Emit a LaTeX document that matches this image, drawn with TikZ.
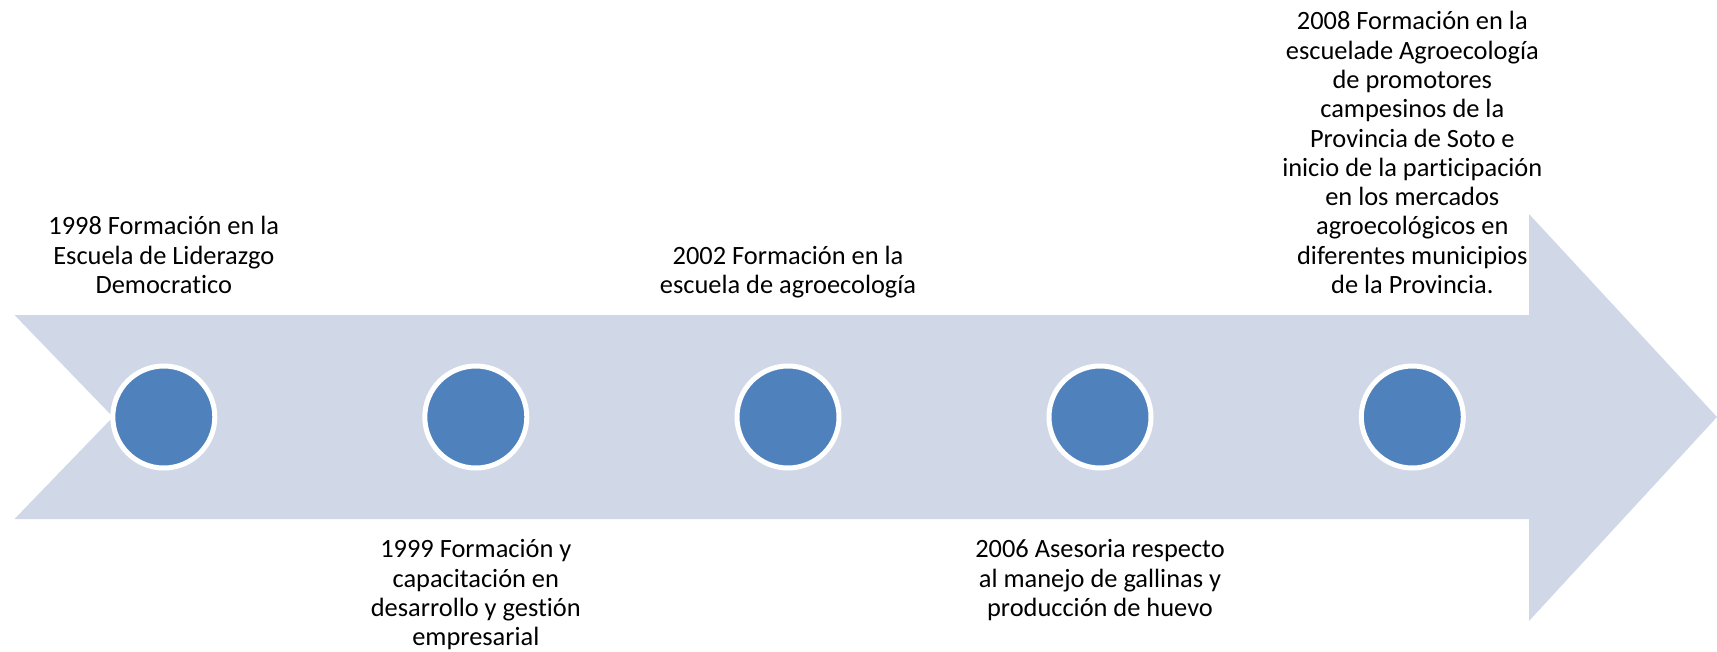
\documentclass[tikz,border=0pt]{standalone}
\usepackage{fontspec}
\setmainfont{Carlito}[Ligatures={NoCommon}]
\definecolor{bandcol}{RGB}{208,216,232}
\definecolor{dotcol}{RGB}{79,129,189}
\begin{document}
\begin{tikzpicture}[x=1pt,y=-1pt,
  dot/.style={circle,fill=dotcol,draw=white,line width=5pt,minimum size=102pt,inner sep=0pt},
  lbl/.style={align=center,inner sep=0pt,anchor=base,font=\fontsize{26.4}{29.3}\selectfont}]
\useasboundingbox (0,0) rectangle (1717,651);
\fill[bandcol] (14.5,315) -- (1529,315) -- (1529,214) -- (1717,417) -- (1529,621)
  -- (1529,519) -- (14.5,519) -- (113,417) -- cycle;
\node[dot] (c1) at (163.8,417) {};
\node[dot] (c2) at (475.8,417) {};
\node[dot] (c3) at (788,417) {};
\node[dot] (c4) at (1100,417) {};
\node[dot] (c5) at (1412.3,417) {};
\node[lbl] (t1) at (163.8,293.5) {1998 Formación en la\\Escuela de Liderazgo\\Democratico};
\node[lbl] (t2) at (475.8,645.7) {1999 Formación y\\capacitación en\\desarrollo y gestión\\empresarial};
\node[lbl] (t3) at (788,293.5) {2002 Formación en la\\escuela de agroecología};
\node[lbl] (t4) at (1100,616.4) {2006 Asesoria respecto\\al manejo de gallinas y\\producción de huevo};
\node[lbl] (t5) at (1412.3,293.5) {2008 Formación en la\\escuelade Agroecología\\de promotores\\campesinos de la\\Provincia de Soto e\\inicio de la participación\\en los mercados\\agroecológicos en\\diferentes municipios\\de la Provincia.};
\end{tikzpicture}
\end{document}
